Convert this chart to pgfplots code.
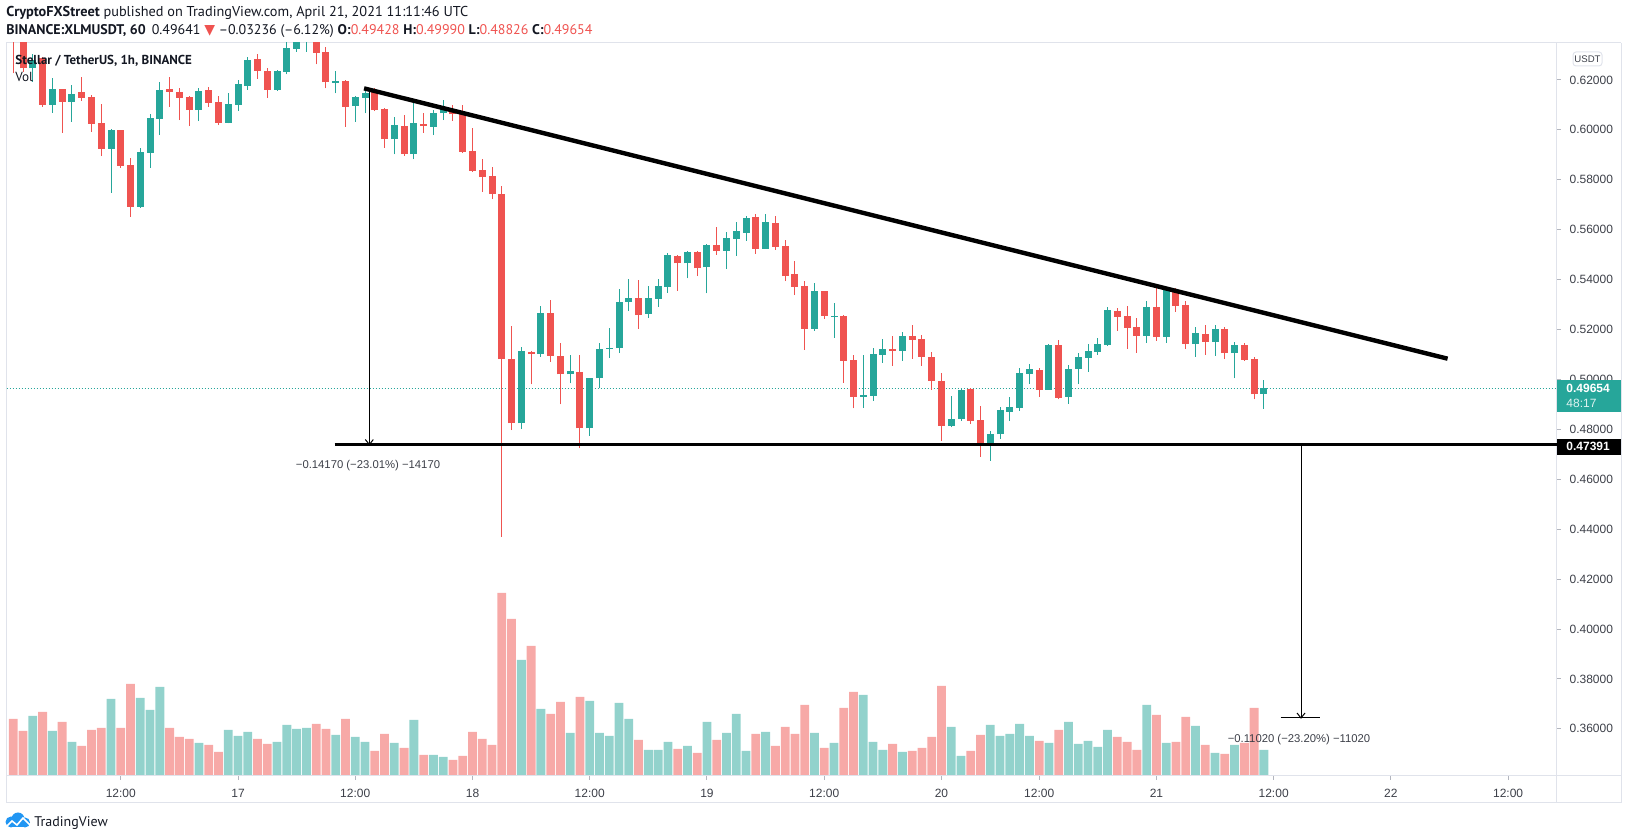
\documentclass[border=0pt]{standalone}
\usepackage{pgfplots}
\pgfplotsset{compat=1.18}
\usepackage{pgfplotstable}
\usepackage{fontspec}
\setmainfont{Liberation Sans}
\newfontfamily\ptsans{PT Sans}
\newfontfamily\dejavu{DejaVu Sans}
\definecolor{upc}{HTML}{26A69A}
\definecolor{dnc}{HTML}{EF5350}
\definecolor{volup}{HTML}{92D2CC}
\definecolor{voldn}{HTML}{F7A9A7}
\definecolor{frame}{HTML}{E0E3EB}
\definecolor{tvtext}{HTML}{131722}
\definecolor{tvblue}{HTML}{2196F3}
\definecolor{tickc}{HTML}{B2B5BE}
\definecolor{lbl}{HTML}{3C3F48}

% rising hours (close >= open): index, open, high, low, close, volume
\pgfplotstableread{
i O H L C V
2 .6246 .6304 .6193 .6280 60
4 .6100 .6206 .6069 .6162 45
6 .6113 .6180 .6033 .6144 34
10 .5925 .6003 .5748 .5999 77
13 .5692 .5926 .5688 .5911 78
14 .5909 .6063 .5848 .6047 66
15 .6045 .6190 .5979 .6160 89
19 .6079 .6166 .6035 .6156 33
22 .6029 .6149 .6026 .6104 46
23 .6100 .6200 .6077 .6184 40
24 .6176 .6290 .6160 .6280 44
27 .6160 .6240 .6156 .6236 34
28 .6233 .6360 .6222 .6327 51
29 .6324 .6365 .6313 .6350 47
30 .6350 .6380 .6313 .6360 48
33 .6189 .6236 .6146 .6196 41
35 .6096 .6136 .6033 .6132 39
36 .6129 .6169 .6066 .6148 34
39 .5962 .6050 .5902 .6019 33
41 .5903 .6109 .5882 .6026 56
43 .6013 .6079 .5979 .6066 21
44 .6066 .6120 .6039 .6086 19
52 .4824 .5131 .4801 .5114 116
54 .5101 .5294 .5091 .5265 67
57 .5020 .5098 .4984 .5034 43
59 .4804 .5006 .4775 .5004 75
60 .5004 .5145 .4964 .5121 43
61 .5122 .5205 .5087 .5127 40
62 .5125 .5361 .5105 .5312 73
63 .5312 .5401 .5274 .5325 57
65 .5262 .5374 .5245 .5325 26
66 .5324 .5402 .5292 .5374 26
67 .5372 .5508 .5348 .5499 34
69 .5465 .5516 .5405 .5512 30
71 .5449 .5543 .5345 .5539 54
73 .5516 .5592 .5442 .5565 43
74 .5563 .5632 .5495 .5595 62
75 .5588 .5655 .5555 .5648 25
77 .5523 .5663 .5523 .5631 44
82 .5202 .5385 .5194 .5354 43
84 .5252 .5305 .5167 .5256 33
87 .4931 .5098 .4887 .4936 81
88 .4935 .5125 .4915 .5102 34
89 .5098 .5162 .5067 .5122 26
91 .5114 .5189 .5075 .5174 24
96 .4815 .4934 .4808 .4841 49
97 .4841 .4962 .4835 .4958 20
100 .4744 .4793 .4675 .4780 51
101 .4780 .4888 .4761 .4878 40
102 .4871 .4928 .4835 .4888 42
103 .4887 .5045 .4874 .5024 52
104 .5022 .5062 .4982 .5040 40
106 .4958 .5142 .4958 .5138 33
108 .4931 .5058 .4902 .5040 54
109 .5042 .5107 .4982 .5089 32
110 .5087 .5142 .5031 .5114 35
111 .5111 .5165 .5098 .5142 29
112 .5138 .5289 .5134 .5278 46
116 .5175 .5314 .5147 .5289 71
118 .5169 .5372 .5147 .5365 33
121 .5141 .5209 .5091 .5185 50
123 .5151 .5218 .5095 .5202 23
125 .5105 .5149 .5004 .5138 31
128 .49428 .49990 .48826 .49654 26
}\upT

% falling hours (close < open)
\pgfplotstableread{
i O H L C V
0 .6430 .6450 .6226 .6370 57
1 .6385 .6400 .6233 .6246 45
3 .6286 .6290 .6093 .6100 64
5 .6162 .6165 .5989 .6113 54
7 .6152 .6210 .6117 .6129 30
8 .6130 .6138 .5993 .6025 46
9 .6026 .6104 .5895 .5925 48
11 .5999 .6000 .5848 .5855 48
12 .5859 .5886 .5652 .5692 92
16 .6162 .6210 .6093 .6152 48
17 .6152 .6166 .6039 .6129 39
18 .6132 .6136 .6015 .6079 37
20 .6160 .6172 .6092 .6109 31
21 .6113 .6136 .6019 .6029 24
25 .6284 .6304 .6204 .6237 37
26 .6236 .6246 .6129 .6160 32
31 .6372 .6385 .6262 .6309 52
32 .6313 .6333 .6166 .6190 47
34 .6196 .6200 .6013 .6093 57
37 .6153 .6166 .6075 .6079 25
38 .6083 .6086 .5929 .5962 42
40 .6015 .6059 .5897 .5903 28
42 .6022 .6066 .5989 .6015 21
45 .6073 .6100 .6037 .6062 16
46 .6066 .6100 .5909 .5913 20
47 .5915 .6006 .5832 .5836 44
48 .5839 .5882 .5752 .5810 37
49 .5815 .5852 .5722 .5742 31
50 .5743 .5775 .4370 .5081 183
51 .5081 .5214 .4797 .4824 157
53 .5111 .5113 .4980 .5101 130
55 .5265 .5318 .5071 .5095 62
56 .5095 .5145 .4900 .5020 74
58 .5028 .5098 .4724 .4804 79
64 .5325 .5398 .5202 .5258 36
68 .5495 .5498 .5356 .5465 27
70 .5512 .5516 .5414 .5445 23
72 .5539 .5612 .5499 .5516 36
76 .5651 .5663 .5503 .5523 42
78 .5628 .5655 .5519 .5532 30
79 .5535 .5559 .5394 .5414 49
80 .5422 .5476 .5338 .5372 42
81 .5374 .5396 .5118 .5202 71
83 .5354 .5355 .5243 .5256 28
85 .5256 .5258 .4987 .5074 68
86 .5078 .5098 .4884 .4931 84
90 .5122 .5174 .5055 .5114 32
92 .5174 .5218 .5082 .5158 25
93 .5162 .5178 .5055 .5091 28
94 .5091 .5111 .4958 .4995 39
95 .4995 .5027 .4755 .4815 90
98 .4962 .4964 .4821 .4835 25
99 .4838 .4894 .4690 .4744 41
105 .5038 .5045 .4931 .4958 35
107 .5138 .5158 .4920 .4927 46
113 .5274 .5288 .5194 .5252 39
114 .5254 .5294 .5122 .5207 34
115 .5209 .5245 .5107 .5175 26
117 .5289 .5372 .5155 .5169 61
119 .5356 .5365 .5272 .5296 34
120 .5298 .5316 .5121 .5141 59
122 .5181 .5218 .5098 .5151 31
124 .5202 .5211 .5081 .5105 22
126 .5138 .5145 .5075 .5078 33
127 .5082 .5091 .4920 .4940 68
}\dnT

\begin{document}
\begin{tikzpicture}[x=0.5pt,y=0.5pt]
\path[use as bounding box] (0,0) rectangle (1627,840);

% ---------- volume pane (overlaid, bottom) ----------
\begin{axis}[at={(3.25pt,32pt)}, anchor=south west, scale only axis,
  width=775pt, height=366.5pt,
  xmin=-0.696, xmax=157.95, ymin=0, ymax=733,
  hide axis, ybar, bar width=4.4pt]
\addplot[fill=volup, draw=none, bar shift=0pt] table[x=i,y=V]{\upT};
\addplot[fill=voldn, draw=none, bar shift=0pt] table[x=i,y=V]{\dnT};
\end{axis}

% ---------- price pane ----------
\begin{axis}[at={(3.25pt,32pt)}, anchor=south west, scale only axis,
  width=775pt, height=366.5pt,
  xmin=-0.696, xmax=157.95, ymin=0.34111, ymax=0.63478,
  clip mode=individual,
  axis line style={draw=frame, line width=0.5pt},
  xtick={11,23,35,47,59,71,83,95,105,117,129,141,153},
  xticklabels={12:00,17,12:00,18,12:00,19,12:00,20,12:00,21,12:00,22,12:00},
  ytick={0.36,0.38,0.40,0.42,0.44,0.46,0.48,0.50,0.52,0.54,0.56,0.58,0.60,0.62},
  yticklabels={0.36000,0.38000,0.40000,0.42000,0.44000,0.46000,0.48000,0.50000,0.52000,0.54000,0.56000,0.58000,0.60000,0.62000},
  xtick pos=bottom, ytick pos=right, yticklabel pos=right,
  tick align=outside, major tick length=2pt,
  tick style={draw=tickc, line width=0.5pt},
  ticklabel style={font=\fontsize{6pt}{7pt}\selectfont, text=lbl},
  xticklabel style={yshift=-1pt},
  yticklabel style={anchor=west, xshift=1pt},
  ]
% current price dotted line
\draw[upc, line width=0.5pt, dash pattern=on 0.5pt off 1pt]
  (axis cs:-0.696,0.49654) -- (axis cs:157.95,0.49654);
% wicks
\addplot[quiver={u=0, v=\thisrow{H}-\thisrow{L}}, mark=none, draw=upc, line width=0.5pt] table[x=i,y=L]{\upT};
\addplot[quiver={u=0, v=\thisrow{H}-\thisrow{L}}, mark=none, draw=dnc, line width=0.5pt] table[x=i,y=L]{\dnT};
% bodies
\addplot[quiver={u=0, v={max(\thisrow{C}-\thisrow{O},0.0004)}}, mark=none, draw=upc, line width=3.5pt] table[x=i,y=O]{\upT};
\addplot[quiver={u=0, v={max(\thisrow{O}-\thisrow{C},0.0004)}}, mark=none, draw=dnc, line width=3.5pt] table[x=i,y=C]{\dnT};
% descending trend line
\draw[black, line width=2.2pt] (axis cs:35.9,0.6166) -- (axis cs:146.8,0.5083);
% support line
\draw[black, line width=1.8pt] (axis cs:32.9,0.47391) -- (axis cs:157.95,0.47391);
% measure 1
\draw[black, line width=0.5pt] (axis cs:36.44,0.6166) -- (axis cs:36.44,0.47391);
\draw[black, line width=0.5pt] (axis cs:36.44,0.47391) ++(-2pt,2.5pt) -- (axis cs:36.44,0.47391) -- ++(2pt,2.5pt);
% measure 2
\draw[black, line width=0.8pt] (axis cs:129.8,0.4743) -- (axis cs:133.7,0.4743);
\draw[black, line width=0.5pt] (axis cs:131.8,0.47391) -- (axis cs:131.8,0.36435);
\draw[black, line width=0.5pt] (axis cs:129.7,0.36435) -- (axis cs:133.7,0.36435);
\draw[black, line width=0.5pt] (axis cs:131.8,0.36435) ++(-2pt,2.5pt) -- (axis cs:131.8,0.36435) -- ++(2pt,2.5pt);
\end{axis}

% ---------- frame pieces ----------
\draw[frame, line width=0.5pt] (1556.5,64) -- (1621,64);
\draw[frame, line width=0.5pt] (6.5,37) -- (1621,37);
\draw[frame, line width=0.5pt] (6.5,37) -- (6.5,64);
\draw[frame, line width=0.5pt] (1556.5,37) -- (1556.5,64);
\draw[frame, line width=0.5pt] (1621,37) -- (1621,797);
\draw[frame, line width=0.5pt] (1556.5,797) -- (1621,797);

% ---------- header ----------
\node[anchor=west, inner sep=0, text=tvtext, font=\ptsans\fontsize{7.15pt}{8pt}\selectfont] at (6,827)
  {\textbf{CryptoFXStreet} published on TradingView.com, April 21, 2021 11:11:46 UTC};
\node[anchor=west, inner sep=0, text=tvtext, font=\ptsans\fontsize{7pt}{8pt}\selectfont] at (6,809)
  {\textbf{BINANCE:XLMUSDT, 60}\ \,0.49641\ {\dejavu\fontsize{7pt}{8pt}\selectfont\color{dnc}▼}\ –0.03236 (–6.12\%)\ \textbf{O:}{\color{dnc}0.49428}\ \textbf{H:}{\color{dnc}0.49990}\ \textbf{L:}{\color{dnc}0.48826}\ \textbf{C:}{\color{dnc}0.49654}};
\node[anchor=west, inner sep=0, text=tvtext, font=\ptsans\bfseries\fontsize{6.5pt}{8pt}\selectfont] at (15,779.3)
  {Stellar / TetherUS, 1h, BINANCE};
\node[anchor=west, inner sep=0, text=tvtext, font=\ptsans\fontsize{6.6pt}{8pt}\selectfont] at (15,763)
  {Vol};

% ---------- measurement labels ----------
\node[inner sep=0, text=lbl, font=\fontsize{5.65pt}{7pt}\selectfont] at (368,374.5)
  {−0.14170 (−23.01\%) −14170};
\node[inner sep=0, text=lbl, font=\fontsize{5.65pt}{7pt}\selectfont] at (1299,100)
  {−0.11020 (−23.20\%) −11020};

% ---------- price scale boxes ----------
\draw[frame, line width=0.5pt, rounded corners=1.5pt] (1573,774) rectangle (1602,788);
\node[inner sep=0, text=lbl, font=\fontsize{4.8pt}{6pt}\selectfont] at (1587.5,781) {USDT};
\fill[upc] (1556.5,428.4) rectangle (1621,459.5);
\node[anchor=west, inner sep=0, text=white, font=\bfseries\fontsize{6pt}{7pt}\selectfont] at (1566,451.4) {0.49654};
\node[anchor=west, inner sep=0, text=white!85!upc, font=\fontsize{6pt}{7pt}\selectfont] at (1566,437) {48:17};
\fill[black] (1556.5,385.1) rectangle (1621,401.4);
\node[anchor=west, inner sep=0, text=white, font=\bfseries\fontsize{6pt}{7pt}\selectfont] at (1566,393.3) {0.47391};

% ---------- TradingView logo ----------
\fill[tvblue] (11,18) circle (5.5);
\fill[tvblue] (18,21) circle (6.5);
\fill[tvblue] (25,17.5) circle (5);
\fill[tvblue] (11,12.5) rectangle (25,18);
\draw[white, line width=0.8pt] (6,13) -- (12,19) -- (17,15) -- (23,22) -- (30,15);
\node[anchor=west, inner sep=0, text=tvtext, font=\ptsans\fontsize{7pt}{8pt}\selectfont] at (34,17) {TradingView};
\end{tikzpicture}
\end{document}
